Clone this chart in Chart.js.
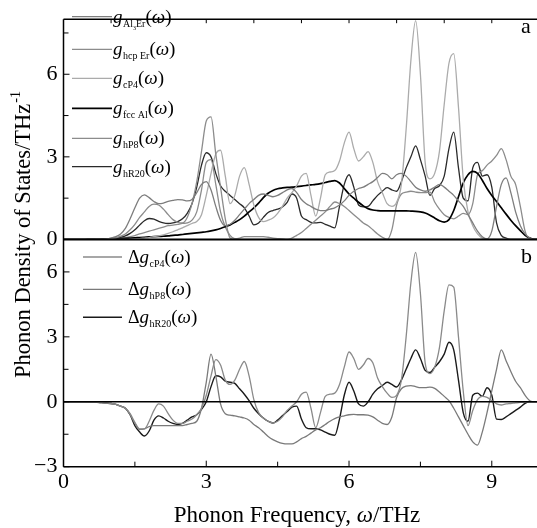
<!DOCTYPE html>
<html>
<head>
<meta charset="utf-8">
<script src="https://cdn.jsdelivr.net/npm/chart.js@4.4.1/dist/chart.umd.min.js"></script>
<style>
  html, body { margin: 0; padding: 0; background: #fff; }
  #wrap { width: 537px; height: 528px; }
</style>
</head>
<body>
<div id="wrap"><canvas id="dosChart"></canvas></div>
<script>
// frequency grid, THz
const freq = [0,0.1,0.2,0.3,0.4,0.5,0.6,0.7,0.8,0.9,1,1.1,1.2,1.3,1.4,1.5,1.6,1.7,1.8,1.9,2,2.1,2.2,2.3,2.4,2.5,2.6,2.7,2.8,2.9,3,3.1,3.2,3.3,3.4,3.5,3.6,3.7,3.8,3.9,4,4.1,4.2,4.3,4.4,4.5,4.6,4.7,4.8,4.9,5,5.1,5.2,5.3,5.4,5.5,5.6,5.7,5.8,5.9,6,6.1,6.2,6.3,6.4,6.5,6.6,6.7,6.8,6.9,7,7.1,7.2,7.3,7.4,7.5,7.6,7.7,7.8,7.9,8,8.1,8.2,8.3,8.4,8.5,8.6,8.7,8.8,8.9,9,9.1,9.2,9.3,9.4,9.5,9.6,9.7,9.8,9.9,10];

// panel a: phonon DOS
const gAl3Er = [0,0,0,0,0,0,0,0.01,0.01,0.02, 0.05,0.1,0.2,0.4,0.75,1.15,1.5,1.62,1.52,1.38, 1.3,1.32,1.38,1.42,1.45,1.44,1.4,1.45,1.7,2.0, 2.1,1.8,1.2,0.7,0.5,0.55,0.7,0.9,1.1,1.3, 1.45,1.6,1.65,1.6,1.55,1.6,1.7,1.8,1.85,1.7, 1.45,1.3,1.2,1.1,1.05,1.05,1.1,1.15,1.25,1.4, 1.6,1.75,1.85,1.9,2.0,2.1,2.25,2.4,2.35,2.2, 2.35,2.4,2.3,2.1,1.9,1.8,1.75,1.8,1.9,2.0, 1.9,1.75,1.6,1.4,1.2,0.9,0.6,0.3,0.1,0.02, 0.3,1.2,2.0,2.24,1.7,1.0,0.5,0.2,0.05,0, 0];
const gHcpEr = [0,0,0,0,0,0,0,0,0,0, 0.03,0.06,0.12,0.2,0.35,0.55,0.8,1.0,1.2,1.28, 1.25,1.1,0.9,0.72,0.62,0.6,0.8,1.3,2.1,3.2, 4.3,4.45,3.1,1.9,0.75,0.05,0,0,0,0, 0,0,0,0,0,0,0,0,0,0, 0,0,0,0,0,0,0,0,0,0, 0,0,0,0,0,0,0,0,0,0, 0,0,0,0,0,0,0,0,0,0, 0,0,0,0,0,0,0,0,0,0, 0,0,0,0,0,0,0,0,0,0, 0];
const gCP4 = [0,0,0,0,0,0,0,0,0,0, 0,0,0,0,0.01,0.02,0.03,0.05,0.07,0.1, 0.13,0.17,0.22,0.28,0.35,0.42,0.5,0.58,0.65,0.9, 1.6,2.4,3.1,3.24,2.3,1.3,1.6,2.3,2.61,2.0, 1.25,0.8,0.65,0.7,0.78,0.95,1.2,1.5,1.7,1.95, 2.3,2.4,1.6,0.85,1.5,2.35,2.45,2.5,2.85,3.5, 3.9,3.3,2.85,3.0,3.19,2.8,2.1,1.7,1.3,1.2, 1.35,2.0,4.0,6.5,7.95,6.0,2.8,2.2,2.4,3.2, 4.9,6.4,6.75,4.8,2.2,1.0,0.5,0.2,0.05,0, 0,0,0,0,0,0,0,0,0,0, 0];
const gFccAl = [0,0,0,0,0,0.01,0.01,0.01,0.02,0.02, 0.03,0.03,0.04,0.04,0.05,0.06,0.07,0.08,0.09,0.1, 0.11,0.12,0.13,0.15,0.16,0.18,0.2,0.22,0.24,0.26, 0.28,0.31,0.35,0.4,0.46,0.53,0.62,0.72,0.85,1.0, 1.15,1.32,1.52,1.68,1.78,1.84,1.87,1.89,1.9,1.92, 1.94,1.96,1.98,2.0,2.03,2.07,2.11,2.14,2.05,1.85, 1.65,1.5,1.35,1.22,1.12,1.07,1.05,1.04,1.04,1.04, 1.04,1.04,1.04,1.03,1.02,1.0,0.96,0.88,0.78,0.68, 0.63,0.72,1.05,1.55,2.05,2.35,2.47,2.4,2.15,1.85, 1.6,1.38,1.15,0.92,0.7,0.5,0.32,0.15,0.05,0, 0];
const gHP8 = [0,0,0,0,0,0,0,0,0,0, 0.02,0.03,0.05,0.07,0.1,0.14,0.2,0.25,0.3,0.35, 0.4,0.45,0.5,0.52,0.55,0.58,0.6,0.7,1.0,1.8, 2.8,2.9,2.0,1.0,0.45,0.15,0.03,0.05,0.1,0.1, 0.1,0.1,0.1,0.08,0.05,0.03,0.02,0,0.05,0.15, 0.25,0.4,0.55,0.7,0.85,1.0,1.2,1.36,1.3,1.2, 1.05,0.9,0.75,0.6,0.5,0.35,0.2,0.08,0,0.35, 1.25,1.65,1.72,1.75,1.72,1.7,1.7,1.72,1.36,1.1, 0.9,0.8,0.75,0.85,0.95,0.9,1.3,2.35,2.5,2.7, 2.85,3.05,3.3,2.9,2.3,2.0,1.2,0.3,0,0, 0];
const gHR20 = [0,0,0,0,0,0,0,0.01,0.01,0.02, 0.03,0.05,0.08,0.13,0.22,0.35,0.52,0.68,0.76,0.74, 0.66,0.6,0.58,0.6,0.65,0.75,0.95,1.3,1.9,2.7, 3.15,3.0,2.4,1.95,1.75,1.6,1.45,1.3,1.15,0.85, 0.53,0.6,0.8,0.98,1.05,1.1,1.18,1.35,1.65,1.5, 0.85,0.72,0.62,0.6,0.62,0.55,0.48,0.42,1.2,2.0, 2.35,1.9,1.25,1.18,1.2,1.4,1.6,1.75,1.88,1.8, 1.75,2.1,2.6,3.0,3.4,2.9,2.3,1.6,1.85,1.95, 2.3,3.3,3.9,2.6,1.5,1.4,2.6,2.8,2.3,2.35, 1.9,0.6,0.15,0.05,0,0,0,0,0,0, 0];

// panel b: differences
const dCP4 = [0,0,0,0,0,-0.01,-0.01,-0.02,-0.04,-0.06, -0.08,-0.12,-0.2,-0.3,-0.55,-0.95,-1.25,-1.25,-0.9,-0.4, -0.1,-0.2,-0.55,-0.85,-1.0,-1.0,-0.9,-0.8,-0.6,-0.3, 0.3,1.2,1.95,1.7,1.0,0.8,1.0,1.5,1.86,1.2, 0.1,-0.5,-0.75,-0.9,-0.98,-0.9,-0.7,-0.4,-0.2,0, 0.35,0.45,-0.3,-1.2,-0.5,0.25,0.35,0.4,0.8,1.6, 2.3,2.0,1.5,1.7,2.0,1.8,1.1,0.7,0.4,0.2, 0.3,1.0,3.0,5.5,6.9,5.0,1.8,1.3,1.6,2.5, 4.2,5.4,5.3,3.0,0.5,-1.1,-0.4,0.1,0.25,0.2, 0.05,-0.1,-0.15,-0.1,-0.08,-0.05,-0.03,-0.01,0,0, 0];
const dHP8 = [0,0,0,0,0,-0.01,-0.01,-0.02,-0.04,-0.06, -0.08,-0.12,-0.2,-0.3,-0.6,-1.0,-1.28,-1.25,-1.15,-1.1, -1.1,-1.1,-1.1,-1.1,-1.1,-1.1,-1.05,-1.0,-0.9,-0.3, 0.9,2.2,1.2,-0.1,-0.55,-0.62,-0.65,-0.7,-0.75,-0.85, -1.05,-1.2,-1.4,-1.6,-1.75,-1.85,-1.92,-1.95,-1.95,-1.85, -1.7,-1.6,-1.45,-1.3,-1.2,-1.05,-0.9,-0.78,-0.7,-0.65, -0.6,-0.58,-0.6,-0.6,-0.62,-0.7,-0.85,-1.0,-1.05,-0.7, 0.2,0.6,0.72,0.75,0.7,0.65,0.65,0.68,0.62,0.45, 0.25,0.05,-0.3,-0.7,-1.1,-1.5,-1.85,-2.0,-1.4,-0.5, 0.5,1.5,2.4,1.9,1.4,0.95,0.65,0.3,0.05,0, 0];
const dHR20 = [0,0,0,0,0,-0.01,-0.01,-0.02,-0.04,-0.06, -0.08,-0.12,-0.2,-0.3,-0.6,-1.1,-1.4,-1.58,-1.35,-0.85, -0.65,-0.75,-0.9,-1.0,-1.05,-1.0,-0.85,-0.7,-0.6,-0.35, 0,0.7,1.2,1.15,0.95,0.9,0.85,0.6,0.35,0.05, -0.3,-0.55,-0.75,-0.9,-0.98,-0.85,-0.65,-0.45,-0.25,-0.2, -0.8,-1.2,-1.25,-1.25,-1.3,-1.4,-1.5,-1.55,-0.8,0.3, 0.9,0.5,-0.1,-0.2,0,0.35,0.6,0.75,0.9,0.8, 0.68,1.0,1.5,2.0,2.4,2.0,1.45,1.35,1.6,1.85, 2.2,2.75,2.4,1.0,-0.5,-0.9,0.3,0.4,0.25,0.65, 0.3,-0.8,-0.82,-0.7,-0.55,-0.4,-0.25,-0.07,0,0, 0];

// axis ticks
const xTicks = [0,1.5,3,4.5,6,7.5,9];
const topTicks = [1,2,3,4,5,6,7,8,9];
const yTopTicks = [0,1.5,3,4.5,6,7.5];
const yBotTicks = [-3,-1.5,0,1.5,3,4.5,6];

const serif = '"Liberation Serif", "Times New Roman", serif';
Chart.defaults.font.family = serif;
Chart.defaults.color = '#000';

function pts(ys) { return freq.map((x, i) => ({ x: x, y: ys[i] })); }

function series(label, ys, color, width, axis) {
  return {
    label: label, data: pts(ys), yAxisID: axis,
    borderColor: color, borderWidth: width,
    pointRadius: 0, fill: false, cubicInterpolationMode: 'monotone'
  };
}

const datasets = [
  series('Al3Er', gAl3Er, '#7d7d7d', 1.3, 'yTop'),
  series('hcp Er', gHcpEr, '#8c8c8c', 1.3, 'yTop'),
  series('cP4', gCP4, '#ababab', 1.3, 'yTop'),
  series('fcc Al', gFccAl, '#000000', 1.7, 'yTop'),
  series('hP8', gHP8, '#8c8c8c', 1.3, 'yTop'),
  series('hR20', gHR20, '#2a2a2a', 1.3, 'yTop'),
  series('cP4', dCP4, '#8a8a8a', 1.3, 'yBot'),
  series('hP8', dHP8, '#7a7a7a', 1.3, 'yBot'),
  series('hR20', dHR20, '#1a1a1a', 1.4, 'yBot')
];

function fixTicks(list) {
  return function (scale) { scale.ticks = list.map(v => ({ value: v })); };
}

function tickLabel(v) {
  if (v % 3 !== 0) return '';
  return v < 0 ? '\u2212' + Math.abs(v) : String(v);
}

// legend entry: italic g with subscript, then (ω)
function drawEntry(ctx, x, y, delta, sub) {
  ctx.textBaseline = 'alphabetic';
  ctx.textAlign = 'left';
  if (delta) {
    ctx.font = '18px ' + serif;
    ctx.fillText('\u0394', x, y);
    x += ctx.measureText('\u0394').width;
  }
  ctx.font = 'italic 19px ' + serif;
  ctx.fillText('g', x, y);
  x += ctx.measureText('g').width + 0.5;
  const parts = sub === 'Al3Er' ? [['Al', 0, 10], ['3', 3, 6], ['Er', 0, 10]] : [[sub, 0, 10]];
  parts.forEach(p => {
    ctx.font = p[2] + 'px ' + serif;
    ctx.fillText(p[0], x, y + 4 + p[1]);
    x += ctx.measureText(p[0]).width;
  });
  ctx.font = '19px ' + serif;
  ctx.fillText('(', x, y);
  x += ctx.measureText('(').width;
  ctx.font = 'italic 19px ' + serif;
  ctx.fillText('\u03c9', x, y);
  x += ctx.measureText('\u03c9').width;
  ctx.font = '19px ' + serif;
  ctx.fillText(')', x, y);
}

const frame = {
  id: 'frame',
  afterDatasetsDraw(chart) {
    const ctx = chart.ctx;
    const a = chart.chartArea;
    const x = chart.scales.x, yT = chart.scales.yTop, yB = chart.scales.yBot;
    ctx.save();
    ctx.strokeStyle = '#000';
    ctx.lineWidth = 1.5;
    const seg = (x1, y1, x2, y2) => { ctx.beginPath(); ctx.moveTo(x1, y1); ctx.lineTo(x2, y2); ctx.stroke(); };
    seg(a.left, a.top, a.left, a.bottom);
    seg(a.left, a.top, a.right, a.top);
    seg(a.left, a.bottom, a.right, a.bottom);
    ctx.lineWidth = 2;
    seg(a.left, yT.getPixelForValue(0), a.right, yT.getPixelForValue(0));
    ctx.lineWidth = 1.5;
    seg(a.left, yB.getPixelForValue(0), a.right, yB.getPixelForValue(0));
    ctx.lineWidth = 1;
    xTicks.forEach(v => { const px = x.getPixelForValue(v); seg(px, a.bottom, px, a.bottom - (v % 3 === 0 ? 6 : 5)); });
    topTicks.forEach(v => { const px = x.getPixelForValue(v); seg(px, a.top, px, a.top + 4); });
    yTopTicks.forEach(v => { const py = yT.getPixelForValue(v); seg(a.left, py, a.left + (v % 3 === 0 ? 6 : 5), py); });
    yBotTicks.forEach(v => { const py = yB.getPixelForValue(v); seg(a.left, py, a.left + (v % 3 === 0 ? 6 : 5), py); });

    // legends
    const topNames = ['Al3Er', 'hcp Er', 'cP4', 'fcc Al', 'hP8', 'hR20'];
    const topRows = [16.7, 49.3, 78.3, 108.3, 138.3, 166.7];
    ctx.fillStyle = '#000';
    topNames.forEach((n, i) => {
      ctx.strokeStyle = datasets[i].borderColor;
      ctx.lineWidth = datasets[i].borderWidth;
      seg(72, topRows[i], 112, topRows[i]);
      drawEntry(ctx, 113, topRows[i] + 6, false, n);
    });
    const botNames = ['cP4', 'hP8', 'hR20'];
    const botRows = [257, 289.3, 317.3];
    botNames.forEach((n, i) => {
      ctx.strokeStyle = datasets[6 + i].borderColor;
      ctx.lineWidth = datasets[6 + i].borderWidth;
      seg(83, botRows[i], 122, botRows[i]);
      drawEntry(ctx, 128, botRows[i] + 6, true, n);
    });

    // panel letters
    ctx.font = '22px ' + serif;
    ctx.textAlign = 'left';
    ctx.fillText('a', 521, 33);
    ctx.fillText('b', 521, 263);

    // axis titles
    ctx.font = '23px ' + serif;
    const xt1 = 'Phonon Frequency, ', xt2 = '\u03c9', xt3 = '/THz';
    const w1 = ctx.measureText(xt1).width, w3 = ctx.measureText(xt3).width;
    ctx.font = 'italic 23px ' + serif;
    const w2 = ctx.measureText(xt2).width;
    const tx = 297 - (w1 + w2 + w3) / 2;
    ctx.font = '23px ' + serif;
    ctx.fillText(xt1, tx, 521.5);
    ctx.font = 'italic 23px ' + serif;
    ctx.fillText(xt2, tx + w1, 521.5);
    ctx.font = '23px ' + serif;
    ctx.fillText(xt3, tx + w1 + w2, 521.5);

    ctx.translate(29.5, 235);
    ctx.rotate(-Math.PI / 2);
    const yt = 'Phonon Density of States/THz';
    ctx.font = '22.5px ' + serif;
    const wy = ctx.measureText(yt).width;
    ctx.font = '14px ' + serif;
    const ws = ctx.measureText('-1').width;
    const sx = -(wy + ws) / 2;
    ctx.font = '22.5px ' + serif;
    ctx.fillText(yt, sx, 0);
    ctx.font = '14px ' + serif;
    ctx.fillText('-1', sx + wy + 1, -10);
    ctx.restore();
  }
};

new Chart(document.getElementById('dosChart').getContext('2d'), {
  type: 'line',
  data: { datasets: datasets },
  options: {
    responsive: true,
    maintainAspectRatio: false,
    animation: false,
    devicePixelRatio: 1,
    layout: { padding: { top: 6.7, left: 0, right: 0, bottom: 0 } },
    plugins: { legend: { display: false }, tooltip: { enabled: false } },
    scales: {
      x: {
        type: 'linear', min: 0, max: 9.95,
        afterBuildTicks: fixTicks(xTicks),
        afterFit: s => { s.height = 61.3; },
        grid: { display: false, drawTicks: false },
        border: { display: false },
        ticks: { callback: tickLabel, autoSkip: false, maxRotation: 0, padding: 2, font: { size: 22 } }
      },
      yBot: {
        type: 'linear', position: 'left', stack: 'dos', stackWeight: 233.6,
        min: -3, max: 7.5,
        afterBuildTicks: fixTicks(yBotTicks),
        afterFit: s => { s.width = 63.5; },
        grid: { display: false, drawTicks: false },
        border: { display: false },
        ticks: { callback: tickLabel, autoSkip: false, padding: 6, font: { size: 22 } }
      },
      yTop: {
        type: 'linear', position: 'left', stack: 'dos', stackWeight: 226.4,
        min: 0, max: 8,
        afterBuildTicks: fixTicks(yTopTicks),
        afterFit: s => { s.width = 63.5; },
        grid: { display: false, drawTicks: false },
        border: { display: false },
        ticks: { callback: tickLabel, autoSkip: false, padding: 6, font: { size: 22 } }
      }
    }
  },
  plugins: [frame]
});
</script>
</body>
</html>
